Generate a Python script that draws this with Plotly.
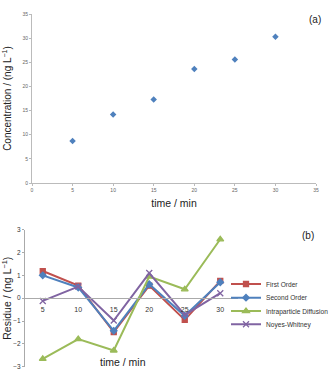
import plotly.graph_objects as go

# Panel (a)
time_a = [5, 10, 15, 20, 25, 30]
conc = [8.7, 14.2, 17.3, 23.6, 25.6, 30.3]

# Panel (b)
time_b = [5, 10, 15, 20, 25, 30]
first_order = [1.19, 0.55, -1.48, 0.55, -0.95, 0.76]
second_order = [1.0, 0.47, -1.43, 0.61, -0.77, 0.70]
intraparticle = [-2.66, -1.79, -2.29, 0.95, 0.39, 2.58]
noyes_whitney = [-0.12, 0.51, -0.98, 1.1, -0.73, 0.22]

W, H = 335, 376
def fx(px): return px / W
def fy(py): return 1 - py / H

fig = go.Figure()
fig.add_trace(go.Scatter(x=time_a, y=conc, mode="markers",
                         marker=dict(symbol="diamond", size=5, color="#4F81BD"),
                         showlegend=False, xaxis="x", yaxis="y"))

series = [
    ("First Order", first_order, "#C0504D", "square", 5),
    ("Second Order", second_order, "#4F81BD", "diamond", 5),
    ("Intraparticle Diffusion", intraparticle, "#9BBB59", "triangle-up", 6),
    ("Noyes-Whitney", noyes_whitney, "#8064A2", "x-thin", 6),
]
legend_names = ["legend", "legend2", "legend3", "legend4"]
legend_y = [284, 297.7, 311, 324.3]
for (name, vals, col, sym, sz), lg in zip(series, legend_names):
    fig.add_trace(go.Scatter(x=time_b, y=vals, mode="lines+markers", name=name,
                             line=dict(color=col, width=2),
                             marker=dict(symbol=sym, size=sz, color=col,
                                         line=dict(color=col, width=1.3)),
                             xaxis="x2", yaxis="y2", legend=lg))

ya_lo, ya_hi = fy(366.7), fy(229.7)
ymin2, ymax2 = -3, 3
xpos = ya_lo + (0 - ymin2) / (ymax2 - ymin2) * (ya_hi - ya_lo)

legend_font = dict(size=6.6, color="#333", family="Liberation Sans Narrow, Liberation Sans, Arial")
legends = {}
for lg, ly in zip(legend_names, legend_y):
    legends[lg] = dict(x=fx(226), y=fy(ly), xanchor="left", yanchor="middle",
                       font=legend_font, itemwidth=30, bgcolor="rgba(0,0,0,0)")

fig.update_layout(
    width=W, height=H, margin=dict(l=0, r=0, t=0, b=0, autoexpand=False),
    paper_bgcolor="white", plot_bgcolor="white",
    font=dict(family="Liberation Sans, Arial", color="#333"),
    xaxis=dict(domain=[fx(32), fx(316)], range=[0, 35], tickvals=list(range(0, 36, 5)),
               showgrid=False, zeroline=False, showline=True, linecolor="#bbb", linewidth=1,
               ticks="outside", ticklen=2, tickcolor="#bbb",
               tickfont=dict(size=5, color="#666"), anchor="y", automargin=False,
               title=dict(text="time / min", font=dict(size=10.5, color="#222"), standoff=7)),
    yaxis=dict(domain=[fy(183), fy(14)], range=[0, 35], tickvals=list(range(0, 36, 5)),
               showgrid=False, zeroline=False, showline=True, linecolor="#bbb", linewidth=1,
               ticks="outside", ticklen=2, tickcolor="#bbb",
               tickfont=dict(size=5, color="#666"), anchor="x", automargin=False,
               title=dict(text="Concentration / (ng L<sup>−1</sup>)", font=dict(size=10, color="#222"), standoff=8)),
    xaxis2=dict(domain=[fx(25), fx(238)], range=[2.5, 32.5], tickvals=time_b,
                showgrid=False, zeroline=False, showline=True, linecolor="#aaa", linewidth=1,
                ticks="", tickfont=dict(size=7, color="#333"), ticklabelstandoff=4,
                anchor="free", position=xpos, automargin=False),
    yaxis2=dict(domain=[ya_lo, ya_hi], range=[ymin2, ymax2], tickvals=list(range(-3, 4)),
                showgrid=False, zeroline=False, showline=True, linecolor="#aaa", linewidth=1,
                ticks="outside", ticklen=2, tickcolor="#aaa",
                tickfont=dict(size=6.5, color="#333"), anchor="x2", automargin=False,
                title=dict(text="Residue / (ng L<sup>−1</sup>)", font=dict(size=10.5, color="#222"), standoff=6)),
    annotations=[
        dict(text="(a)", x=fx(323), y=fy(12), xref="paper", yref="paper", showarrow=False,
             font=dict(size=10, color="#222")),
        dict(text="(b)", x=fx(316), y=fy(235), xref="paper", yref="paper", showarrow=False,
             font=dict(size=10, color="#222")),
        dict(text="time / min", x=fx(123), y=fy(370), xref="paper", yref="paper", showarrow=False,
             font=dict(size=10.5, color="#222")),
    ],
    **legends,
)
fig.write_html("out.html")
